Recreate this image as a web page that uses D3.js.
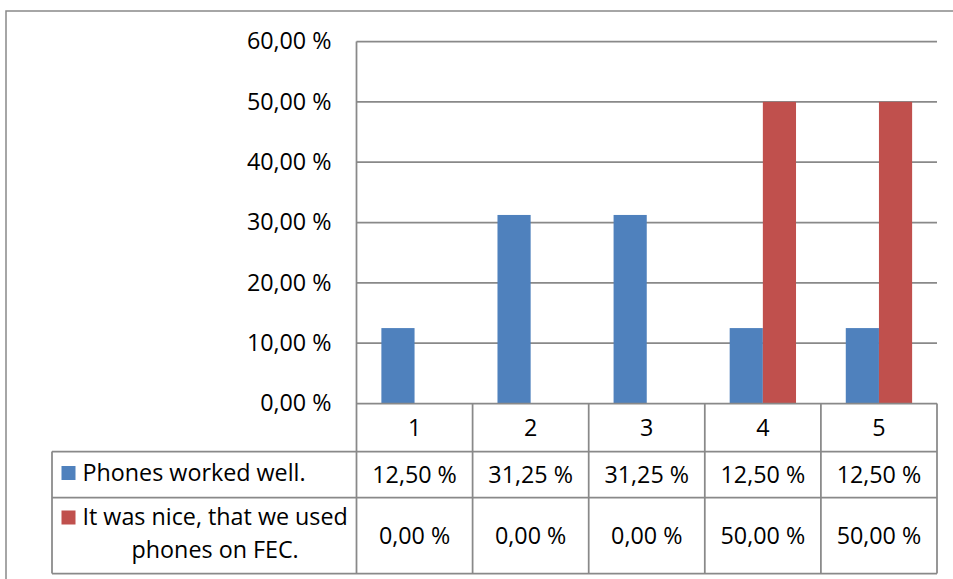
<!DOCTYPE html>
<html>
<head>
<meta charset="utf-8">
<script src="https://cdn.jsdelivr.net/npm/d3@7"></script>
<style>
  html, body { margin: 0; padding: 0; background: #fff; }
  svg { display: block; }
  text { font-family: "Open Sans", "Noto Sans", sans-serif; fill: #000; }
</style>
</head>
<body>
<svg id="chart" width="953" height="579"></svg>
<script>
// Survey answers per rating (1–5), in percent
const categories = ["1", "2", "3", "4", "5"];
const seriesNames = ["Phones worked well.", "It was nice, that we used phones on FEC."];
const seriesLabelLines = [["Phones worked well."], ["It was nice, that we used", "phones on FEC."]];
const phonesWorkedWell = [12.5, 31.25, 31.25, 12.5, 12.5];
const niceUsedPhones = [0, 0, 0, 50, 50];
const yTicks = [0, 10, 20, 30, 40, 50, 60];
const colors = ["#4F81BD", "#C0504D"];

const seriesValues = [phonesWorkedWell, niceUsedPhones];

const svg = d3.select("#chart");
const gridColor = "#898989";
const fontSize = 23.3;

const plot = { left: 356.5, right: 937, top: 41.5, bottom: 403.5 };
const tableLeft = 52;
const rowEdges = [403.5, 451.5, 497.5, 573.5];

const fmt = v => d3.format(".2f")(v).replace(".", ",") + " %";

// outer chart frame
svg.append("rect")
  .attr("x", 6).attr("y", 11)
  .attr("width", 960).attr("height", 600)
  .attr("fill", "none").attr("stroke", gridColor).attr("stroke-width", 1.5);

const x = d3.scaleBand().domain(categories).range([plot.left, plot.right]);
const xInner = d3.scaleBand().domain(d3.range(seriesValues.length))
  .range([0, x.bandwidth()]).paddingInner(0).paddingOuter(0.75);
const y = d3.scaleLinear().domain([0, 60]).range([plot.bottom, plot.top]);

// horizontal gridlines
svg.append("g").selectAll("line").data(yTicks.filter(t => t > 0)).join("line")
  .attr("x1", plot.left).attr("x2", plot.right)
  .attr("y1", d => y(d)).attr("y2", d => y(d))
  .attr("stroke", gridColor).attr("stroke-width", 1.75);

// y axis labels
const yAxis = d3.axisLeft(y).tickValues(yTicks).tickFormat(fmt).tickSize(0).tickPadding(25);
const gy = svg.append("g").attr("transform", `translate(${plot.left},0)`).call(yAxis);
gy.select(".domain").remove();
gy.selectAll("text")
  .style("font-family", "'Open Sans', 'Noto Sans', sans-serif")
  .style("font-size", fontSize + "px")
  .attr("fill", "#000");

// bars
seriesValues.forEach((vals, si) => {
  svg.append("g").selectAll("rect").data(vals.map((v, i) => ({ v, c: categories[i] })))
    .join("rect")
    .attr("x", d => x(d.c) + xInner(si))
    .attr("width", xInner.bandwidth())
    .attr("y", d => y(d.v))
    .attr("height", d => y(0) - y(d.v))
    .attr("fill", colors[si]);
});

// data table grid
const tg = svg.append("g").attr("stroke", gridColor).attr("stroke-width", 1.75).attr("fill", "none");
// left value axis line
tg.append("line").attr("x1", plot.left).attr("x2", plot.left).attr("y1", plot.top).attr("y2", rowEdges[3]);
// horizontal table lines
rowEdges.forEach((ry, i) => {
  tg.append("line").attr("x1", i === 0 ? plot.left : tableLeft).attr("x2", plot.right)
    .attr("y1", ry).attr("y2", ry);
});
// column separators
categories.forEach(c => {
  tg.append("line").attr("x1", x(c) + x.bandwidth()).attr("x2", x(c) + x.bandwidth())
    .attr("y1", rowEdges[0]).attr("y2", rowEdges[3]);
});
tg.append("line").attr("x1", tableLeft).attr("x2", tableLeft).attr("y1", rowEdges[1]).attr("y2", rowEdges[3]);

// category header row
svg.append("g").selectAll("text").data(categories).join("text")
  .attr("x", d => x(d) + x.bandwidth() / 2)
  .attr("y", (rowEdges[0] + rowEdges[1]) / 2)
  .attr("dy", "0.35em")
  .attr("text-anchor", "middle")
  .style("font-size", fontSize + "px")
  .text(d => d);

// value rows with legend keys
const keyX = 61.5, labelX = 82.5, lineH = 33;
seriesValues.forEach((vals, si) => {
  const cy = (rowEdges[si + 1] + rowEdges[si + 2]) / 2;
  svg.append("g").selectAll("text").data(vals.map((v, i) => ({ v, c: categories[i] })))
    .join("text")
    .attr("x", d => x(d.c) + x.bandwidth() / 2)
    .attr("y", cy)
    .attr("dy", "0.35em")
    .attr("text-anchor", "middle")
    .style("font-size", fontSize + "px")
    .text(d => fmt(d.v));

  const lines = seriesLabelLines[si];
  const firstBaseline = cy - ((lines.length - 1) / 2) * lineH + 6;
  const key = svg.append("g");
  const t = key.append("text")
    .attr("text-anchor", "middle")
    .style("font-size", fontSize + "px");
  const spans = lines.map((ln, li) => t.append("tspan")
    .attr("y", firstBaseline + li * lineH)
    .text(ln));
  // lines are centred within the block that starts after the key square
  const widest = d3.max(spans, s => s.node().getComputedTextLength());
  spans.forEach(s => s.attr("x", labelX + widest / 2));
  key.append("rect")
    .attr("x", keyX)
    .attr("y", firstBaseline - 14.5)
    .attr("width", 14).attr("height", 14)
    .attr("fill", colors[si]);
});
</script>
</body>
</html>
